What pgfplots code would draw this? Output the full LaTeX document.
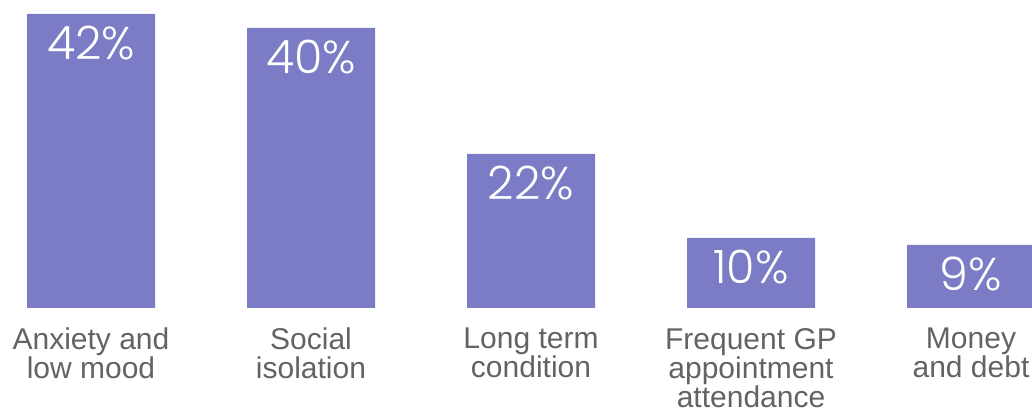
\documentclass[border=0pt]{standalone}
\usepackage{pgfplots}
\pgfplotsset{compat=1.18}
\usepackage{fontspec}
\setmainfont{Liberation Sans}
\newfontfamily\valfont{Poppins Light}
\definecolor{barcol}{HTML}{7C7CC6}
\definecolor{labgray}{HTML}{636363}
\begin{document}
\begin{tikzpicture}
\begin{axis}[
  scale only axis,
  x=220pt, y=7pt,
  xmin=-0.41364, xmax=4.27727,
  ymin=0, ymax=44,
  clip=true,
  axis line style={draw=none},
  major tick length=0pt,
  ytick=\empty,
  xtick={0,1,2,3,4},
  xticklabels={{Anxiety and\\low mood},{Social\\isolation},{Long term\\condition},{Frequent GP\\appointment\\attendance},{Money\\and debt}},
  xticklabel style={align=center, anchor=north, inner sep=0pt, yshift=-20pt,
    font=\fontsize{30}{29}\selectfont, text=labgray},
  ybar, bar width=128pt, bar shift=0pt,
  point meta=explicit symbolic,
  nodes near coords,
  nodes near coords style={anchor=north, yshift=-12pt, inner sep=0pt, text=white,
    font=\valfont\fontsize{46}{46}\selectfont},
]
\addplot[fill=barcol, draw=none] coordinates {
  (0,42) [42\%]
  (1,40) [40\%]
  (2,22) [22\%]
  (3,10) [10\%]
  (4,9)  [9\%]
};
\end{axis}
\pgfresetboundingbox
\path[use as bounding box] ([yshift=-106pt]current axis.south west) rectangle (current axis.north east);
\end{tikzpicture}
\end{document}
